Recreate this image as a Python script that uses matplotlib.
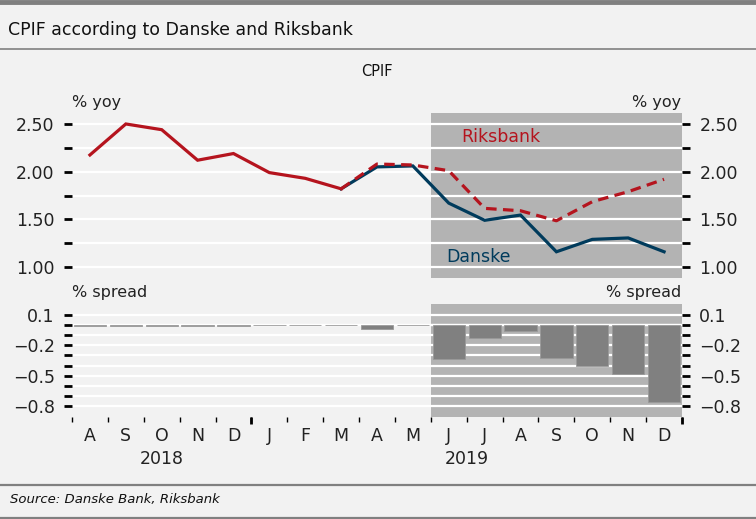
import matplotlib
matplotlib.use("Agg")
import matplotlib.pyplot as plt
import matplotlib.transforms as mtransforms
import numpy as np

months = ["A", "S", "O", "N", "D", "J", "F", "M", "A", "M",
          "J", "J", "A", "S", "O", "N", "D"]
years = ["2018", "2019"]
danske = [2.175, 2.50, 2.44, 2.12, 2.19, 1.99, 1.93, 1.82, 2.05, 2.06,
          1.67, 1.49, 1.545, 1.16, 1.29, 1.305, 1.16]
riksbank = [2.175, 2.50, 2.44, 2.12, 2.19, 1.99, 1.93, 1.82, 2.08, 2.07,
            2.01, 1.615, 1.59, 1.485, 1.685, 1.79, 1.92]
spread = [-0.005, -0.01, -0.01, -0.005, -0.01, 0.0, 0.0, 0.0, -0.04, 0.0,
          -0.335, -0.13, -0.055, -0.325, -0.405, -0.48, -0.765]
top_ticks = [1.00, 1.25, 1.50, 1.75, 2.00, 2.25, 2.50]
top_labels = ["1.00", "", "1.50", "", "2.00", "", "2.50"]
bot_ticks = [0.1, 0.0, -0.1, -0.2, -0.3, -0.4, -0.5, -0.6, -0.7, -0.8]
bot_labels = ["0.1", "", "", "\u22120.2", "", "", "\u22120.5", "", "", "\u22120.8"]

W, H = 756, 519
BG = "#f2f2f2"
RED = "#b5141e"
BLUE = "#003b5c"
SHADE = "#b3b3b3"
BAR = "#808080"
plt.rcParams['font.family'] = ['DejaVu Sans']

fig = plt.figure(figsize=(W / 100, H / 100), dpi=100, facecolor=BG)

def rect(x0, y0, x1, y1):
    return [x0 / W, 1 - y1 / H, (x1 - x0) / W, (y1 - y0) / H]

def fx(x):
    return x / W

def fy(y):
    return 1 - y / H

# frame lines
fig.add_artist(plt.Line2D([0, 1], [fy(2), fy(2)], color="#808080", lw=3.5))
fig.add_artist(plt.Line2D([0, 1], [fy(49), fy(49)], color="#808080", lw=1.2))
fig.add_artist(plt.Line2D([0, 1], [fy(484.5), fy(484.5)], color="#808080", lw=1.6))
fig.add_artist(plt.Line2D([0, 1], [fy(517.5), fy(517.5)], color="#808080", lw=1.6))

fig.text(fx(8), fy(30), "CPIF according to Danske and Riksbank", fontsize=12.5,
         va="center", ha="left", color="#111111")
fig.text(fx(10), fy(499), "Source: Danske Bank, Riksbank", fontsize=9.5,
         va="center", ha="left", style="italic", color="#111111")
fig.text(fx(377), fy(72), "CPIF", fontsize=10.5, va="center", ha="center", color="#111111")
fig.text(fx(72), fy(102), "% yoy", fontsize=11.5, va="center", ha="left", color="#222222")
fig.text(fx(681), fy(102), "% yoy", fontsize=11.5, va="center", ha="right", color="#222222")
fig.text(fx(72), fy(293), "% spread", fontsize=11.5, va="center", ha="left", color="#222222")
fig.text(fx(681), fy(293), "% spread", fontsize=11.5, va="center", ha="right", color="#222222")

x = np.arange(len(months))
xlim = (-0.5, len(months) - 0.5)
fc_start = 9.5

def style_axis(ax, ticks, labels, ylim):
    ax.set_facecolor(BG)
    for s in ax.spines.values():
        s.set_visible(False)
    ax.set_xlim(*xlim)
    ax.set_ylim(*ylim)
    ax.axvspan(fc_start, xlim[1], color=SHADE, lw=0, zorder=0)
    for t in ticks:
        ax.axhline(t, color="white", lw=1.6, zorder=1)
    ax.set_yticks(ticks)
    ax.set_yticklabels(labels)
    ax.tick_params(axis="y", which="major", left=True, right=True,
                   labelleft=True, labelright=True, length=5.5, width=2,
                   color="black", labelsize=12.5, pad=7, labelcolor="#222222")

# top panel
ax1 = fig.add_axes(rect(72, 113, 682, 278))
style_axis(ax1, top_ticks, top_labels, (0.885, 2.615))
ax1.tick_params(axis="x", bottom=False, labelbottom=False)
ax1.plot(x[7:], danske[7:], color=BLUE, lw=2.3, zorder=3, solid_joinstyle="miter")
ax1.plot(x[:8], riksbank[:8], color=RED, lw=2.3, zorder=4, solid_joinstyle="miter")
ax1.plot(x[7:], riksbank[7:], color=RED, lw=2.3, zorder=4, dashes=(3.3, 2.0))
ax1.text(10.34, 2.36, "Riksbank", color=RED, fontsize=12.5, va="center", ha="left")
ax1.text(9.92, 1.105, "Danske", color=BLUE, fontsize=12.5, va="center", ha="left")

# bottom panel
ax2 = fig.add_axes(rect(72, 304, 682, 417))
style_axis(ax2, bot_ticks, bot_labels, (-0.909, 0.209))
ax2.axhline(0, color="white", lw=1.6, zorder=1)
ax2.bar(x, spread, width=0.9, color=BAR, edgecolor="#9a9a9a", lw=0.6, zorder=2)
ax2.set_xticks(x)
ax2.set_xticklabels(months)
ax2.set_xticks(np.arange(xlim[0], xlim[1] + 0.01, 1.0), minor=True)
ax2.tick_params(axis="x", which="major", length=0, pad=7, labelsize=12.5,
                labelcolor="#222222")
ax2.tick_params(axis="x", which="minor", length=3.5, width=1, color="black",
                direction="out")
trans = mtransforms.blended_transform_factory(ax2.transData, ax2.transAxes)
ax2.vlines([4.5, xlim[1]], 0, -0.06, transform=trans, color="black", lw=2,
           clip_on=False)
ax2.text(2, -0.375, years[0], transform=trans, ha="center", va="center",
         fontsize=12.5, color="#222222")
ax2.text(10.5, -0.375, years[1], transform=trans, ha="center", va="center",
         fontsize=12.5, color="#222222")

fig.savefig("out.png", dpi=100, facecolor=BG)
